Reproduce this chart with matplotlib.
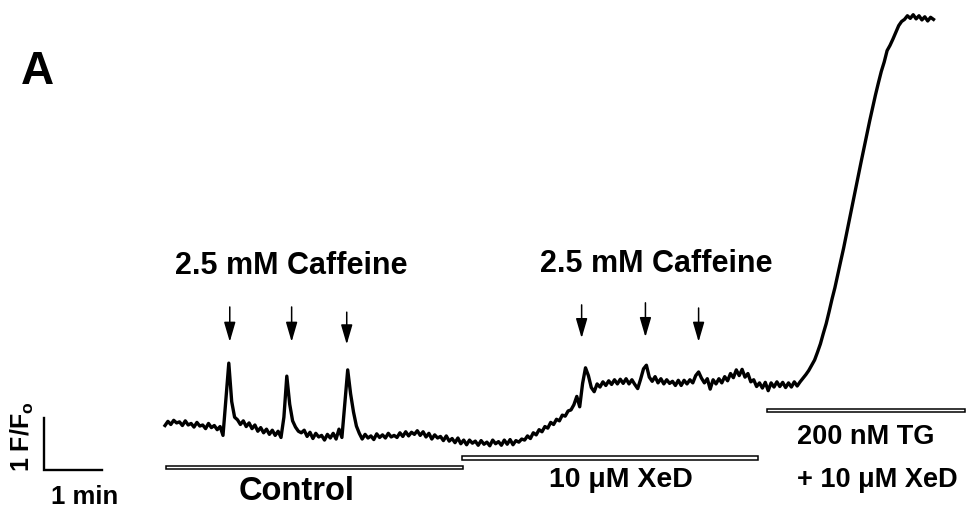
import numpy as np
import matplotlib
matplotlib.use("Agg")
import matplotlib.pyplot as plt
from matplotlib.patches import Rectangle

plt.rcParams['font.family'] = ['Liberation Sans', 'DejaVu Sans']
plt.rcParams['mathtext.fontset'] = 'custom'
plt.rcParams['mathtext.rm'] = 'Liberation Sans'
plt.rcParams['mathtext.bf'] = 'Liberation Sans:bold'

# ---------------- data ----------------
sample_interval_s = 3.0
fluo_ratio = [
    0.99, 1.07, 1.01, 1.09, 1.04, 1.06, 0.99, 1.08, 1.00, 1.03,
    0.96, 1.05, 0.98, 1.00, 0.93, 1.03, 0.95, 0.99, 0.91, 0.97,
    0.80, 1.50, 2.19, 1.45, 1.15, 1.10, 1.01, 1.08, 0.97, 1.04,
    0.93, 1.00, 0.88, 0.95, 0.85, 0.92, 0.82, 0.90, 0.80, 0.88,
    0.76, 1.15, 1.94, 1.40, 1.08, 0.96, 0.88, 0.85, 0.90, 0.78,
    0.86, 0.74, 0.84, 0.77, 0.80, 0.71, 0.82, 0.75, 0.84, 0.73,
    0.92, 0.76, 1.40, 2.06, 1.60, 1.25, 0.98, 0.84, 0.73, 0.82,
    0.75, 0.79, 0.72, 0.83, 0.76, 0.81, 0.75, 0.84, 0.77, 0.80,
    0.76, 0.85, 0.78, 0.87, 0.79, 0.86, 0.82, 0.89, 0.80, 0.87,
    0.77, 0.84, 0.73, 0.81, 0.75, 0.78, 0.70, 0.79, 0.69, 0.74,
    0.66, 0.75, 0.64, 0.71, 0.62, 0.71, 0.65, 0.69, 0.61, 0.70,
    0.63, 0.67, 0.60, 0.71, 0.64, 0.68, 0.61, 0.71, 0.63, 0.72,
    0.62, 0.70, 0.67, 0.73, 0.71, 0.79, 0.74, 0.85, 0.81, 0.91,
    0.87, 0.97, 0.94, 1.05, 1.01, 1.11, 1.08, 1.19, 1.17, 1.27,
    1.29, 1.39, 1.55, 1.35, 1.80, 2.10, 1.95, 1.72, 1.64, 1.79,
    1.73, 1.83, 1.76, 1.85, 1.78, 1.87, 1.79, 1.88, 1.80, 1.89,
    1.79, 1.87, 1.78, 1.70, 1.88, 2.08, 2.15, 1.92, 1.84, 1.93,
    1.81, 1.89, 1.79, 1.87, 1.80, 1.84, 1.76, 1.86, 1.76, 1.86,
    1.79, 1.87, 1.81, 1.95, 2.02, 1.90, 1.81, 1.89, 1.69, 1.87,
    1.79, 1.89, 1.81, 1.93, 1.85, 1.99, 1.91, 2.06, 1.95, 2.07,
    1.92, 1.99, 1.83, 1.87, 1.74, 1.81, 1.71, 1.82, 1.66, 1.81,
    1.73, 1.83, 1.74, 1.82, 1.72, 1.81, 1.73, 1.83, 1.75, 1.83,
    1.90, 1.97, 2.05, 2.15, 2.25, 2.40, 2.56, 2.76, 2.95, 3.18,
    3.42, 3.64, 3.90, 4.15, 4.40, 4.68, 4.95, 5.22, 5.50, 5.78,
    6.05, 6.32, 6.58, 6.85, 7.10, 7.35, 7.58, 7.80, 7.98, 8.20,
    8.30, 8.42, 8.55, 8.68, 8.76, 8.80, 8.87, 8.82, 8.89, 8.81,
    8.87, 8.79, 8.85, 8.77, 8.84, 8.80,
]
caffeine_times_s = [67, 131, 188, 431, 497, 552]
treatment_labels = ["Control", "10 \u03bcM XeD", "200 nM TG", "+ 10 \u03bcM XeD"]
treatment_start_s = [1, 307, 623]
treatment_end_s = [308, 613, 828]
scale_time_s = 60
scale_ratio = 1.0

time_s = np.arange(len(fluo_ratio)) * sample_interval_s

# ---------------- figure ----------------
W, H = 967, 516
fig = plt.figure(figsize=(W / 100, H / 100), dpi=100)
ax = fig.add_axes([0, 0, 1, 1])
px_per_s = 58 / 60.0
px_per_unit = 52.0
x0_px = 165
y_ref_px = 477
ax.set_xlim(-x0_px / px_per_s, (W - x0_px) / px_per_s)
ax.set_ylim((y_ref_px - H) / px_per_unit, y_ref_px / px_per_unit)
ax.axis('off')

def fx(px):
    return px / W

def fy(py):
    return 1 - py / H

ax.plot(time_s, fluo_ratio, color='black', lw=2.4, solid_joinstyle='round')

# treatment bars
bar_levels = [0.18, 0.365, 1.28]
for s, e, lvl in zip(treatment_start_s, treatment_end_s, bar_levels):
    ax.add_patch(Rectangle((s, lvl - 0.035), e - s, 0.07, facecolor='white',
                           edgecolor='black', lw=1.1))

# arrows for caffeine
arrow_tails = [3.27, 3.27, 3.17, 3.31, 3.35, 3.25]
arrow_tips = [2.60, 2.60, 2.55, 2.67, 2.69, 2.60]
for t, tail, tip in zip(caffeine_times_s, arrow_tails, arrow_tips):
    ax.annotate('', xy=(t, tip), xytext=(t, tail),
                arrowprops=dict(arrowstyle='-|>,head_length=1.2,head_width=0.35',
                                color='black', lw=1.1, shrinkA=0, shrinkB=0))

# scale bar
sb_t0 = -125.0
sb_y0 = 0.135
ax.plot([sb_t0, sb_t0, sb_t0 + scale_time_s], [sb_y0 + scale_ratio, sb_y0, sb_y0],
        color='black', lw=1.7, solid_joinstyle='miter')

bold = dict(fontweight='bold', color='black')
fig.text(fx(37), fy(72), "A", fontsize=33, ha='center', va='center', **bold)
fig.text(fx(291), fy(266), "2.5 mM Caffeine", fontsize=22, ha='center', va='center', **bold)
fig.text(fx(656), fy(264), "2.5 mM Caffeine", fontsize=22, ha='center', va='center', **bold)
fig.text(fx(297), fy(491), treatment_labels[0], fontsize=23.5, ha='center', va='center', **bold)
fig.text(fx(621), fy(480), treatment_labels[1], fontsize=20.5, ha='center', va='center', **bold)
fig.text(fx(866), fy(437), treatment_labels[2], fontsize=19.5, ha='center', va='center', **bold)
fig.text(fx(877), fy(480), treatment_labels[3], fontsize=19.5, ha='center', va='center', **bold)
fig.text(fx(85), fy(497), "1 min", fontsize=18.5, ha='center', va='center', **bold)
fig.text(fx(22), fy(437), r"1 F/F$_\mathbf{o}$", fontsize=18, ha='center', va='center',
         rotation=90, **bold)

fig.savefig("out.png", dpi=100)
